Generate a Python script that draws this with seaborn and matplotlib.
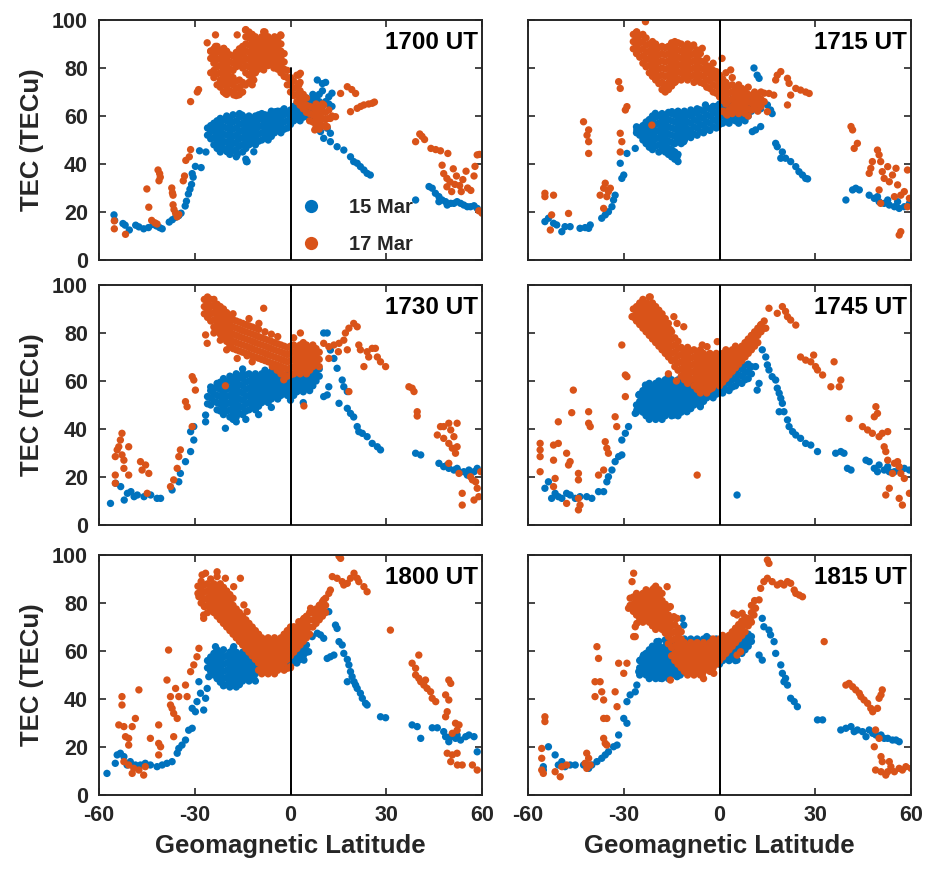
import pandas as pd
import seaborn as sns
import matplotlib.pyplot as plt

times = ['1700 UT', '1715 UT', '1730 UT', '1745 UT', '1800 UT', '1815 UT']
days = ['15 Mar', '17 Mar']
lat_ticks = [-60, -30, 0, 30, 60]
tec_ticks = [0, 20, 40, 60, 80, 100]

# scattered points: (geomagnetic latitude, TEC)
# dense cores: latitude column -> TEC values

# ---- 1700 UT ----
mar15_1700 = [
    (-55.3, 18.8), (-55.1, 16.5), (-52.5, 15.2), (-51.8, 14.5), (-50.5, 12.5), (-48.5, 14.5), (-47.5, 13.8),
    (-46, 13), (-44.5, 13.5), (-43, 14.8), (-42, 14.2), (-41, 13.5), (-40.2, 13), (-38, 15.8), (-37, 16.8),
    (-36, 17.8), (-35, 18.5), (-34.3, 19.5), (-33, 22.5), (-32.6, 24.5), (-32, 27.5), (-31.5, 29.5), (-31, 31.5),
    (-30.5, 34.5), (-30.8, 36), (-29.8, 39), (-28.5, 45.5), (-26.5, 45), (-28, 38.5), (-13.8, 41), (3.1, 59.7),
    (-19.9, 45.1), (-16.7, 43.8), (-13.6, 41), (-11.5, 45.1), (-6.8, 60.4), (-4.7, 61.8), (-15.2, 60.4),
    (-21.4, 58.3),
    (8.4, 75), (9.4, 56), (9.4, 53.5), (10.4, 50.7), (11.5, 54.9), (12.5, 52.8), (12.5, 49.3), (14.6, 47.2),
    (16.7, 45.8), (18.8, 43), (19.8, 41), (20.9, 40.3), (21.9, 38.9), (23, 37.5), (24, 36.1), (25, 35.4),
    (39.2, 25), (43.4, 30.6), (44.4, 29.9), (45.4, 27.8), (46.5, 26.4), (46.5, 24.3), (47.5, 25), (48.6, 24.3),
    (49.1, 22.9), (50.2, 23.6), (51.2, 23.6), (52.2, 24.3), (53.3, 23.6), (54.3, 22.9), (55.4, 22.2),
    (56.4, 22.2), (57.5, 22.6), (58.5, 21.5),
]
mar15_1700_core = {
    -26: [52, 55], -25: [50.5, 53.5, 56], -24: [48, 51, 54, 57], -23: [46.5, 49.5, 52.5, 55.5, 58],
    -22: [45, 48, 51, 54, 57, 59], -21: [46.5, 49.5, 52.5, 55.5, 58.5], -20: [46, 49, 52, 55, 58, 60],
    -19: [44, 47, 50, 53, 56, 59], -18: [45.5, 48.5, 51.5, 54.5, 57.5, 60.5], -17: [43, 46, 49, 52, 55, 58],
    -16: [47.5, 50.5, 53.5, 56.5, 59.5, 61], -15: [45, 48, 51, 54, 57, 60], -14: [42, 46.5, 49.5, 52.5, 55.5, 58.5],
    -13: [48, 51, 54, 57, 60], -12: [49.5, 52.5, 55.5, 58.5], -11: [48, 51, 54, 57, 60],
    -10: [49.5, 52.5, 55.5, 58.5, 60.5], -9: [50, 53, 56, 59, 61], -8: [51.5, 54.5, 57.5, 60.5],
    -7: [50, 53, 56, 59], -6: [51.5, 54.5, 57.5, 60.5, 62], -5: [53, 56, 59, 61], -4: [54.5, 57.5, 60.5, 62],
    -3: [53, 56, 59, 62], -2: [54.5, 57.5, 60.5, 63], -1: [55, 58, 61], 0: [56.5, 59.5, 62.5], 1: [58, 61, 64],
    2: [59.5, 62.5, 65], 3: [58, 61, 64, 66], 4: [59.5, 62.5, 65], 5: [60, 63, 66, 67.5], 6: [59, 62, 65],
    7: [61, 64, 67, 69], 8: [62, 65, 68], 9: [63, 66, 69], 10: [64, 70.5, 73.5], 11: [66, 74], 12: [65, 68],
    13: [64, 69.5],
}
mar17_1700 = [
    (-55.2, 16.3), (-55.2, 13), (-51.7, 10.7), (-45, 29.6), (-44.4, 22), (-43.5, 16.5), (-42.5, 15.5),
    (-41.8, 15), (-41.5, 37.5), (-41, 36), (-40.8, 34.5), (-41.2, 33), (-37.2, 30), (-37, 28), (-36.8, 27),
    (-36.8, 23), (-36.5, 21), (-36, 19.5), (-35.5, 18), (-35, 19), (-33.6, 33), (-33.2, 35), (-32.8, 41.5),
    (-31.7, 43), (-31.3, 46), (-31.3, 66), (-29.2, 70), (-28.8, 71), (-26.1, 90.5),
    (-25, 87), (-23.5, 89), (-20.9, 88.2), (-18.8, 74.3), (-16.2, 68.8), (-15.2, 70), (-14.1, 95.8),
    (-12.5, 93.8), (-8.4, 95.1), (-3.1, 93.8), (2.6, 77), (7.6, 54.2), (11.5, 55.6), (14.1, 59.7),
    (12.5, 59), (10.4, 64.6), (-20.4, 69.4), (-17.8, 68.8), (-14.1, 72.9), (-11.5, 75), (-8.4, 79.2),
    (-5.2, 80), (-23.5, 93.8), (-16.7, 93.8), (0, 75), (2.6, 72.9), (3.1, 77.8),
    (17.8, 72.2), (19.2, 71), (20.4, 69.4), (15.7, 69.4), (18.8, 61.8), (20.9, 63.2), (22, 64), (23, 64.6),
    (24.5, 65), (25.6, 65.3), (26.3, 65.8),
    (39.2, 49.3), (40.5, 52.5), (41.2, 51.5), (42, 50.2), (44, 46.5), (45.5, 46), (47, 45.5), (49.3, 44.4),
    (47.5, 39.5), (48, 36), (49, 34), (50, 32.5), (51, 38), (52, 35), (53, 31), (54, 33.5), (55, 37),
    (50.5, 28.5), (53.5, 28.5), (55.5, 30), (56.5, 29), (57.5, 35), (58.5, 43.8), (59.2, 44), (59, 20.5),
    (60, 19.5), (57.8, 39), (49, 30.5), (51.5, 31.5),
]
mar17_1700_core = {
    -25: [78, 84, 87], -24: [76, 79, 82, 85, 88], -23: [73, 77.5, 80.5, 83.5, 86.5, 89],
    -22: [72, 75, 78, 81, 84, 87], -21: [70, 73.5, 76.5, 79.5, 82.5, 85.5, 88], -20: [69, 72, 75, 78, 81, 84, 87],
    -19: [70.5, 73.5, 76.5, 79.5, 82.5, 85.5], -18: [70, 73, 76, 79, 82, 85], -17: [68.5, 71.5, 74.5, 80.5, 83.5, 86.5],
    -16: [69, 72, 75, 82, 85, 88], -15: [70, 74, 80, 83, 86, 89], -14: [78, 81, 84, 87, 90, 93, 96],
    -13: [74, 77, 80.5, 83.5, 86.5, 89.5, 92.5, 95], -12: [73, 76, 79, 82, 85, 88, 91, 94],
    -11: [78, 81, 84, 87, 90, 93], -10: [79.5, 82.5, 85.5, 88.5, 91.5], -9: [81, 84, 87, 90, 93],
    -8: [82.5, 85.5, 88.5, 91.5, 95], -7: [81, 84, 87, 90, 93], -6: [82.5, 85.5, 88.5, 91.5],
    -5: [81, 84, 87, 90, 93], -4: [79.5, 82.5, 85.5, 88.5, 91.5], -3: [78, 81, 84, 87, 90, 93.5],
    -2: [76.5, 79.5, 82.5, 86], -1: [73, 76, 79], 0: [70, 73, 76], 1: [68.5, 71.5, 74.5], 2: [66, 69, 72, 77],
    3: [64.5, 67.5, 70.5, 74], 4: [63, 66, 69], 5: [61.5, 64.5, 67.5], 6: [58, 61, 64], 7: [57.5, 60.5, 63.5],
    8: [56, 59, 62, 65], 9: [54.5, 57.5, 60.5, 63.5], 10: [56, 59, 62, 65], 11: [55.5, 58.5, 61.5],
    12: [59, 62.5], 13: [60],
}

# ---- 1715 UT ----
mar15_1715 = [
    (-54.7, 16), (-53.6, 17.4), (-52, 15.3), (-51, 14.6), (-49.4, 11.8), (-48.4, 13.9), (-46.8, 13.9),
    (-43.7, 13.2), (-42.1, 13.5), (-40.5, 14.6), (-41, 13.2), (-36.9, 17.4), (-35.8, 18.8), (-34.8, 20.1),
    (-33.7, 22.2), (-33.2, 25), (-32.7, 27), (-31.1, 40.3), (-30.6, 34), (-30, 35.4), (-29, 44.4),
    (-26.4, 46.5), (-25.9, 54.2), (-13.3, 43), (-14.3, 45), (-11.2, 49.3), (-10.2, 52), (-20.1, 61.1),
    (-14.9, 61.8), (-4.4, 64.6),
    (10.8, 80), (11.8, 77), (12.4, 75.7), (11.3, 67.4), (12.9, 63), (15, 64.6), (16, 62.5), (16.5, 61),
    (10.3, 53.5), (11.3, 54.2), (12.9, 55.6), (17.6, 48.6), (18.1, 47.2), (19.7, 45), (19.2, 42.4),
    (20.7, 42.4), (22.3, 41), (23.9, 38.9), (24.9, 36.8), (26, 35.4), (27, 34), (27.6, 33.8),
    (39.6, 25), (41.7, 29.2), (42.7, 29.9), (43.8, 29.2), (46.9, 27), (48.5, 25.7), (50, 24.3), (51.6, 23.6),
    (53.2, 22.9), (54.8, 22.2), (56.3, 21.5), (57.9, 22.2), (59.5, 23.6), (49.5, 26.4), (52.7, 25),
    (55.8, 24.3),
]
mar15_1715_core = {
    -26: [53, 55.5], -25: [52, 55], -24: [50, 53, 56], -23: [48.5, 51.5, 54.5, 57.5], -22: [47, 50, 53, 56, 58.5],
    -21: [46, 49, 52, 55, 58, 60], -20: [47.5, 50.5, 53.5, 56.5, 59.5], -19: [45, 48, 51, 54, 57, 60],
    -18: [46.5, 49.5, 52.5, 55.5, 58.5, 61], -17: [45, 48, 51, 54, 57, 60],
    -16: [44, 46.5, 49.5, 52.5, 55.5, 58.5, 61.5], -15: [43, 46, 49, 52, 55, 58, 61],
    -14: [42, 45, 48.5, 51.5, 54.5, 57.5, 60.5], -13: [41, 44, 50, 53, 56, 59, 62],
    -12: [48.5, 51.5, 54.5, 57.5, 60.5], -11: [50, 53, 56, 59, 62], -10: [51.5, 54.5, 57.5, 60.5],
    -9: [51, 54, 57, 60, 62.5], -8: [52.5, 55.5, 58.5, 61.5], -7: [52, 55, 58, 61, 63], -6: [53.5, 56.5, 59.5, 62.5],
    -5: [53, 56, 59, 62], -4: [54.5, 57.5, 60.5, 63.5], -3: [54, 57, 60, 63], -2: [55.5, 58.5, 61.5, 64],
    -1: [55, 58, 61, 64], 0: [56.5, 59.5, 62.5, 65], 1: [57, 60, 63, 66], 2: [58, 61, 64, 67],
    3: [57, 60, 63, 66], 4: [58.5, 61.5, 64.5, 67], 5: [58, 61, 64, 67], 6: [57, 60, 63, 66], 7: [59, 62, 65],
    8: [58, 61, 64, 67], 9: [60, 63, 66], 10: [62, 65],
}
mar17_1715 = [
    (-54.7, 27.8), (-54.7, 26.4), (-52, 27), (-52.6, 18.8), (-53, 12.5), (-47.3, 19.4), (-42.6, 57.6),
    (-41, 54.2), (-41.5, 52), (-41, 49.3), (-41, 44.4), (-37.4, 27), (-36.3, 29.9), (-35.8, 32), (-35.3, 26.4),
    (-34.8, 28.5), (-36.3, 21.5), (-34.2, 29.9), (-31.6, 74.3), (-31.1, 71.5), (-29, 63.9), (-29.5, 62.5),
    (-31.1, 52.8), (-30.6, 49.3), (-31.1, 45), (-21.2, 56.2), (-23.2, 99.3),
    (-25.9, 95), (-25.9, 87.5), (-17.5, 70.8), (-15.9, 72.2), (-13.8, 74.3), (-3.9, 79.2), (-2.3, 76.4),
    (0.8, 84), (3.5, 79.2), (-8.1, 89.6), (-5.4, 88.2),
    (1.4, 61.8), (2.4, 60.4), (4.5, 61.8),
    (18.1, 77), (19.2, 78.5), (17.6, 75), (21.3, 75.7), (21.8, 73.6), (23.9, 71.5), (25.4, 70.8), (27, 70),
    (28.1, 69.4), (22.3, 68.7), (21.3, 64.6), (15, 61.8), (17, 68.7), (15.5, 69.4),
    (41.2, 55.6), (41.7, 54.2), (42.2, 46.5), (43.2, 48.6), (46.9, 36.1), (47.4, 38.2), (47.9, 41),
    (49.5, 45.8), (50, 43.8), (50.5, 41), (51, 36.8), (51.6, 34), (52.7, 38.9), (53.2, 32.6), (54.2, 35.4),
    (55.3, 38.2), (55.8, 31.3), (56.8, 27), (57.9, 28.5), (58.9, 37.5), (59.5, 25.7), (50, 29.2),
    (50.5, 23.6), (56.3, 10.4), (56.8, 11.8), (58.9, 22.2), (54.8, 26.4),
]
mar17_1715_core = {
    -27: [88, 91, 94], -26: [86, 89, 92, 95], -25: [84.5, 87.5, 90.5, 93.5], -24: [82, 85, 88, 91, 94],
    -23: [80.5, 83.5, 86.5, 89.5, 92.5], -22: [78, 81, 84, 87, 90], -21: [76.5, 79.5, 82.5, 85.5, 88.5, 91],
    -20: [75, 78, 81, 84, 87, 90], -19: [73.5, 76.5, 79.5, 82.5, 85.5, 88.5], -18: [71, 74, 77, 80, 83, 86, 89],
    -17: [70, 73, 76.5, 79.5, 82.5, 85.5, 88.5], -16: [71, 74, 77, 80, 83, 86, 89],
    -15: [72.5, 75.5, 78.5, 81.5, 84.5, 87.5, 90.5], -14: [74, 77, 80, 83, 86, 89, 91],
    -13: [75.5, 78.5, 81.5, 84.5, 87.5, 90.5], -12: [75, 78, 81, 84, 87, 90], -11: [76.5, 79.5, 82.5, 85.5, 88.5],
    -10: [75, 78, 81, 84, 87, 90], -9: [76.5, 79.5, 82.5, 85.5, 88.5], -8: [74, 77, 80, 83, 86],
    -7: [75.5, 78.5, 81.5, 84.5, 87.5], -6: [74, 77, 80, 83, 86], -5: [73.5, 76.5, 79.5, 82.5],
    -4: [72, 75, 78, 81, 84], -3: [71.5, 74.5, 77.5, 80.5], -2: [70, 73, 76, 79, 82], -1: [69.5, 72.5, 75.5, 78.5],
    0: [68, 71, 74, 77], 1: [62, 66.5, 69.5, 72.5, 75.5], 2: [61, 65, 68, 71, 74, 78], 3: [62.5, 66.5, 69.5, 72.5],
    4: [61, 64, 67, 70, 73, 76], 5: [62.5, 65.5, 68.5, 71.5], 6: [61, 64, 67, 70, 73], 7: [62.5, 65.5, 68.5, 71.5],
    8: [61, 64, 67, 70], 9: [60, 63, 66, 69, 72], 10: [62.5, 65.5, 68.5], 11: [64, 67, 70], 12: [62, 65.5, 68.5],
    13: [64, 67, 70], 14: [66, 69.5],
}

# ---- 1730 UT ----
mar15_1730 = [
    (-56.4, 9), (-54.8, 17.4), (-53.2, 16), (-52.1, 10.4), (-51.1, 13.2), (-50, 13.9), (-49, 11.8), (-48, 12.5),
    (-45.9, 11.8), (-43.8, 12.5), (-41.8, 11.1), (-40.7, 11.1), (-37.1, 14.6), (-35, 18), (-34.5, 21.5),
    (-32.9, 26.4), (-31.3, 30.6), (-30.3, 35.4), (-31.3, 38.9), (-30.3, 41), (-26.6, 43), (-26.6, 45.8),
    (-20.4, 40.3), (-17, 43), (-14, 44), (-10, 46), (-6, 49), (-25, 57.5), (-15, 65), (-8, 64.5), (-3, 65.5),
    (10.4, 80), (11.5, 80), (12.5, 72.9), (13.6, 69.4), (14.6, 65.3), (12, 57.6), (11.5, 54.2), (10.4, 53.5),
    (15.2, 50.7), (16.2, 60.4), (16.7, 57.6), (17.8, 55.6), (17.8, 48.6), (18.8, 46.5), (19.8, 45),
    (20.9, 41), (21.4, 38.9), (22.5, 38.2), (24, 36.8), (25.6, 34), (27.2, 32.6), (28.2, 31.3),
    (39.2, 29.9), (40.8, 29.2), (46.5, 25.7), (48, 24.3), (49.6, 23.6), (51.2, 22.9), (52.8, 22.2),
    (54.3, 22.2), (55.9, 22.9), (57.5, 22.2), (58.5, 23.6), (49.1, 25), (52.2, 23.6), (55.4, 20.8),
]
mar15_1730_core = {
    -26: [50.5, 53.5], -25: [50, 53, 56], -24: [51.5, 54.5, 57], -23: [48, 51, 54, 57, 59],
    -22: [47.5, 50.5, 53.5, 56.5, 59.5], -21: [46, 49, 52, 55, 58, 61], -20: [47.5, 50.5, 53.5, 56.5, 59.5],
    -19: [45, 48, 51, 54, 57, 60, 62], -18: [44, 46.5, 49.5, 52.5, 55.5, 58.5, 61.5],
    -17: [45, 48, 51, 54, 57, 60, 63], -16: [46.5, 49.5, 52.5, 55.5, 58.5, 61.5], -15: [46, 49, 52, 55, 58, 61, 63],
    -14: [47.5, 50.5, 53.5, 56.5, 59.5, 62.5], -13: [48, 51, 54, 57, 60, 63], -12: [49.5, 52.5, 55.5, 58.5, 61.5],
    -11: [48, 51, 54, 57, 60, 63], -10: [49.5, 52.5, 55.5, 58.5, 61.5], -9: [51, 54, 57, 60, 63],
    -8: [52.5, 55.5, 58.5, 61.5], -7: [51, 54, 57, 60, 63], -6: [52.5, 55.5, 58.5, 61.5, 64], -5: [54, 57, 60, 63],
    -4: [52.5, 55.5, 58.5, 61.5, 64], -3: [54, 57, 60, 63], -2: [55.5, 58.5, 61.5], -1: [54, 57, 60, 63],
    0: [52, 55.5, 58.5, 61.5], 1: [54, 57, 60], 2: [55.5, 58.5, 61.5], 3: [57, 60, 63], 4: [51, 55.5, 58.5, 61.5],
    5: [57, 60, 63], 6: [56, 59, 62, 64.5], 7: [58, 61, 64], 8: [60, 63, 66], 9: [62, 65],
}
mar17_1730 = [
    (-54.9, 28.5), (-54.3, 31.3), (-53.8, 32.6), (-52.8, 38.2), (-53.3, 35.4), (-52.8, 29.2), (-52.2, 27),
    (-52.2, 23.6), (-54.9, 20.8), (-54.9, 17.4), (-50.7, 32.6), (-50.7, 20.8), (-47, 26.4), (-46.5, 22.9),
    (-45.4, 25), (-44.4, 21.5), (-44.9, 13.2), (-37.6, 16), (-36.6, 18.8), (-35, 28.5), (-35.5, 23.6),
    (-34.5, 31.3), (-32.9, 51.4), (-32.4, 49.3), (-30.8, 61.8), (-30.3, 60.4), (-29.8, 56.2), (-30.8, 41),
    (-26.6, 79.2), (-26.1, 75.7), (-20.4, 58), (4.2, 49.6), (18.3, 55.6), (-1.5, 62), (-3, 64),
    (-16.7, 69.4), (-13.6, 70.5), (-8.4, 90.3), (-9.9, 84), (-5.7, 66), (-4.2, 64.5), (-2.1, 60.5), (-12, 68),
    (-20, 73), (-24, 80), (-22, 77),
    (3.1, 80), (10.4, 75.7), (12, 74.3), (13.6, 75), (15.2, 75.7), (16.7, 77), (17.2, 80), (18.3, 82),
    (19.8, 84), (20.9, 82.6), (17.8, 73), (21.4, 75), (21.9, 73), (24, 72.2), (25.6, 73.6), (26.6, 73.6),
    (27.2, 70), (24.5, 70), (28.2, 68), (29.8, 66), (23, 66), (12, 69.4), (15, 72.2),
    (37.1, 57.6), (38.1, 57), (38.7, 55.6), (39.7, 47.2), (39.7, 45.4), (46, 37.5), (47, 41), (48, 41),
    (49.6, 42.4), (50.2, 39.6), (51.2, 36.8), (52.2, 42.4), (49.6, 34), (50.7, 32), (51.7, 29.9), (52.2, 32.6),
    (49.6, 25.7), (52.8, 21.5), (56.4, 20.1), (57, 18.8), (58, 18), (58.5, 15.3), (53.8, 13.2), (53.8, 8.3),
    (57.5, 10.4), (59, 11.8), (59.6, 22.2), (48, 36.1),
]
mar17_1730_core = {
    -27: [88, 91, 94], -26: [86.5, 89.5, 92.5, 95], -25: [85, 88, 91, 94], -24: [82.5, 85.5, 88.5, 91.5, 94],
    -23: [81, 84, 87, 90, 92], -22: [79.5, 82.5, 85.5, 88.5, 91], -21: [78, 81, 84, 87, 90],
    -20: [76.5, 79.5, 82.5, 85.5, 88.5], -19: [75, 78, 81, 84, 87], -18: [73.5, 76.5, 79.5, 82.5, 85.5, 88],
    -17: [73, 76, 79, 82, 85], -16: [72.5, 75.5, 78.5, 81.5, 84.5], -15: [72, 75, 78, 81, 84],
    -14: [71.5, 74.5, 77.5, 80.5, 83.5], -13: [71, 74, 77, 80, 83, 86], -12: [70.5, 73.5, 76.5, 79.5, 82.5],
    -11: [70, 73, 76, 79, 82], -10: [69.5, 72.5, 75.5, 78.5, 81.5], -9: [69, 72, 75, 78],
    -8: [68.5, 71.5, 74.5, 77.5, 80.5], -7: [68, 71, 74, 77], -6: [67.5, 70.5, 73.5, 76.5, 79.5],
    -5: [67, 70, 73, 76], -4: [66.5, 69.5, 72.5, 75.5, 78.5], -3: [63, 66, 69, 72, 75],
    -2: [62.5, 65.5, 68.5, 71.5, 74.5], -1: [62, 65, 68, 71, 74], 0: [62.5, 65.5, 68.5, 71.5, 74.5],
    1: [63, 66, 69, 72, 75, 78], 2: [64.5, 67.5, 70.5, 73.5], 3: [63, 66, 69, 72, 75],
    4: [64.5, 67.5, 70.5, 73.5, 76], 5: [63, 66, 69, 72, 75], 6: [64.5, 67.5, 70.5, 73.5], 7: [66, 69, 72, 75],
    8: [67.5, 70.5, 73.5], 9: [66, 69, 72],
}

# ---- 1745 UT ----
mar15_1745 = [
    (-54.7, 15.3), (-53.6, 18), (-52.6, 11.1), (-51.5, 13.2), (-50.5, 11.8), (-49.4, 11.1), (-47.9, 13.2),
    (-46.8, 12.5), (-45.2, 11.1), (-43.7, 11.8), (-41.6, 11.8), (-40, 11.1), (-37.9, 13.9), (-36.3, 13.9),
    (-35.3, 18), (-34.8, 20.1), (-33.7, 22.9), (-32.7, 26.4), (-31.6, 28.5), (-30.6, 29.2), (-30.6, 35.4),
    (-29.5, 38.2), (-28.5, 41), (-26.4, 46.5), (-25.9, 47.9), (-25.3, 54.2),
    (-17.5, 47.2), (-14.3, 45.8), (-10.2, 47.2), (-6, 49.3), (-23.2, 58.3), (-15.9, 61.1), (-8.1, 60.4),
    (-4.4, 61.8),
    (10.8, 77.8), (11.3, 66), (13.4, 73), (14.5, 70), (15, 66.7), (15.5, 64.6), (16.5, 61.8), (17.6, 60.4),
    (18.1, 57), (18.7, 54.9), (19.2, 52.8), (19.7, 50.7), (18.7, 47.2), (20.2, 47.2), (21.3, 43.8),
    (21.8, 41), (22.9, 38.9), (23.9, 37.5), (25.4, 36.1), (27, 34), (28.6, 33.3), (30.7, 30.6), (11.8, 56.2),
    (12.4, 59), (5.5, 12.5),
    (36.4, 29.9), (38, 30.6), (39, 29.9), (40.1, 23.6), (41.2, 22.9), (45.9, 27), (46.9, 26.4), (48.5, 23.6),
    (50, 25), (51.6, 22.9), (53.2, 22.2), (54.8, 22.2), (56.3, 23.6), (57.9, 23.6), (59.5, 22.9), (49.5, 22.2),
    (52.7, 24.3),
]
mar15_1745_core = {
    -26: [47, 50], -25: [48.5, 51.5, 54.5], -24: [47, 50, 53, 56], -23: [45.5, 48.5, 51.5, 54.5, 57.5],
    -22: [44, 47, 50, 53, 56, 59], -21: [45.5, 48.5, 51.5, 54.5, 57.5], -20: [44, 47, 50, 53, 56, 59],
    -19: [45.5, 48.5, 51.5, 54.5, 57.5, 60], -18: [44, 47, 50, 53, 56, 59],
    -17: [45.5, 48.5, 51.5, 54.5, 57.5, 60.5], -16: [47, 50, 53, 56, 59, 62],
    -15: [45.5, 48.5, 51.5, 54.5, 57.5, 60.5], -14: [47, 50, 53, 56, 59],
    -13: [45.5, 48.5, 51.5, 54.5, 57.5, 60.5], -12: [47, 50, 53, 56, 59], -11: [48.5, 51.5, 54.5, 57.5, 60.5],
    -10: [50, 53, 56, 59], -9: [48.5, 51.5, 54.5, 57.5, 60.5], -8: [50, 53, 56, 59], -7: [51.5, 54.5, 57.5, 60.5],
    -6: [50, 53, 56, 59], -5: [51.5, 54.5, 57.5, 60.5], -4: [53, 56, 59], -3: [54.5, 57.5, 60.5],
    -2: [53, 56, 59], -1: [54.5, 57.5, 60.5], 0: [56, 59, 62], 1: [55, 58, 61], 2: [56.5, 59.5, 62.5],
    3: [56, 59, 62], 4: [57.5, 60.5, 63.5], 5: [58, 61, 64], 6: [59.5, 62.5, 65.5], 7: [59, 62, 65],
    8: [60.5, 63.5, 66.5], 9: [61, 64, 67], 10: [63, 66],
}
mar17_1745 = [
    (-56.2, 34), (-56.2, 31.3), (-56.2, 28.5), (-56.2, 22.2), (-52, 33.3), (-52, 27), (-50.5, 34), (-50.5, 43),
    (-51.5, 19.4), (-52, 16), (-47.9, 29.9), (-46.8, 26.4), (-47.3, 25), (-46.3, 46.8), (-45.8, 56.2),
    (-44.2, 21.5), (-44.2, 18.8), (-47.9, 9), (-44.2, 11.1), (-44.2, 6.3), (-43.7, 8.3), (-41, 47.2),
    (-41, 42.4), (-40.5, 41), (-37.9, 20.8), (-36.3, 22.9), (-35.8, 34.7), (-35.3, 32), (-34.8, 29.9),
    (-32.7, 45.1), (-32.2, 41), (-30.6, 75), (-29.5, 62.5), (-29, 61.8), (-29.5, 53.5), (-7, 20.8),
    (-13.5, 60), (-16, 63), (-21.7, 95), (-22.7, 92.4), (-26.4, 86.1), (-27.4, 86.8), (-14.3, 86.8),
    (-13.3, 84), (-11.2, 82.6), (-15.4, 81.3), (-10.7, 72.2), (-5.4, 75), (-3.9, 74.3), (-0.7, 76.4),
    (-10.2, 64.6), (-6, 56.2), (-2.3, 57), (-7, 59.7),
    (15.5, 90.3), (18.1, 88.2), (19.7, 91), (20.7, 89), (21.3, 86.8), (22.3, 85.4), (23.9, 83.3), (12.9, 83.3),
    (14.5, 82), (10.8, 79.2),
    (25.4, 70), (27, 68.7), (28.6, 68), (29.5, 70.8), (30.1, 66), (30.7, 64.6), (32.3, 62.5), (35.9, 68),
    (34.9, 57.6), (37.5, 57.6), (38, 60.4), (40.6, 44.4), (44.8, 41), (46.4, 39.6), (47.9, 38.2), (49, 49.3),
    (49.5, 46.5), (48.5, 45.1), (50, 36.8), (51, 38.2), (52.7, 38.9), (51.6, 32.6), (52.1, 30.6), (52.7, 27),
    (54.8, 25.7), (55.8, 26.4), (56.3, 24.3), (56.8, 21.5), (57.9, 19.4), (53.2, 15.3), (52.1, 12.5),
    (56.3, 11.1), (57.3, 8.3), (59.5, 13.2), (54.2, 21.5),
]
mar17_1745_core = {
    -27: [87, 90], -26: [85, 88, 91], -25: [83.5, 86.5, 89.5, 92.5], -24: [82, 85, 88, 91, 94],
    -23: [80.5, 83.5, 86.5, 89.5, 92.5], -22: [79, 82, 85, 88, 91, 95], -21: [77.5, 80.5, 83.5, 86.5, 89.5, 92.5],
    -20: [76, 79, 82, 85, 88, 91], -19: [74.5, 77.5, 80.5, 83.5, 86.5, 89.5], -18: [73, 76, 79, 82, 85, 88],
    -17: [71.5, 74.5, 77.5, 80.5, 83.5, 86], -16: [70, 73, 76, 79, 82, 84], -15: [68.5, 71.5, 74.5, 77.5, 80.5],
    -14: [66, 69, 72, 75, 78], -13: [64.5, 67.5, 70.5, 73.5, 76.5], -12: [62, 65, 68, 71, 74],
    -11: [60.5, 63.5, 66.5, 69.5, 72.5], -10: [59, 62, 65, 68, 71, 74], -9: [60.5, 63.5, 66.5, 69.5, 72.5],
    -8: [58, 61, 64, 67, 70, 73], -7: [56.5, 59.5, 62.5, 65.5, 68.5, 71.5], -6: [55, 58, 61, 64, 67, 70, 73],
    -5: [56.5, 59.5, 62.5, 65.5, 68.5, 71.5], -4: [55, 58, 61, 64, 67, 70],
    -3: [56.5, 59.5, 62.5, 65.5, 68.5, 71.5], -2: [58, 61, 64, 67, 70], -1: [59.5, 62.5, 65.5, 68.5, 71.5],
    0: [58, 61, 64, 67, 70], 1: [59.5, 62.5, 65.5, 68.5, 71.5], 2: [61, 64, 67, 70, 73], 3: [62.5, 65.5, 68.5, 71.5],
    4: [64, 67, 70, 73], 5: [65.5, 68.5, 71.5, 74.5], 6: [67, 70, 73], 7: [68.5, 71.5, 74.5], 8: [70, 73, 76],
    9: [71.5, 74.5, 77.5], 10: [73, 76, 79], 11: [74.5, 77.5, 80.5], 12: [76, 79, 82], 13: [80.5, 83.5],
    14: [82, 85],
}

# ---- 1800 UT ----
mar15_1800 = [
    (-57.5, 9), (-54.9, 13.2), (-54.3, 16.7), (-53.3, 17.4), (-52.2, 16), (-51.2, 12.5), (-50.2, 13.9),
    (-48.6, 12.5), (-47, 12.5), (-45.5, 13.2), (-43.9, 12.5), (-41.8, 11.8), (-40.2, 12.5), (-38.7, 13.2),
    (-37.1, 13.9), (-35.5, 17.4), (-35, 19.4), (-34, 20.8), (-32.9, 22.9), (-31.9, 27), (-30.8, 27.8),
    (-30.8, 36.1), (-29.8, 34.7), (-29.3, 38.9), (-28.2, 42.4), (-28.7, 47.2), (-27.2, 35.4), (-26.6, 40.3),
    (-26.1, 44.4), (-25.6, 49.3), (-25.1, 52.1),
    (-23.5, 61.8), (-17.8, 61.8), (-16.7, 46.5), (-11.5, 48.6), (-9.9, 56.2), (-4.2, 58.3), (1.6, 55.6),
    (4.2, 56.2), (5.2, 59.7),
    (12, 76.4), (14.1, 70.8), (14.6, 69.4), (15.2, 63.9), (16.2, 62.5), (16.7, 59), (17.8, 56.5), (18.3, 54.2),
    (18.8, 51.4), (19.3, 49.3), (17.8, 47.2), (19.9, 47.2), (20.4, 45.8), (20.9, 44.4), (21.9, 42.4),
    (22.5, 40.3), (23.5, 38.2), (24, 37.5), (11.5, 56.9), (12.5, 57.6), (13.6, 58.3), (9.4, 66.7),
    (10.4, 65.3), (8.4, 67.4), (6.8, 66), (5.7, 59.7),
    (28.2, 32.6), (29.8, 32.2), (38.1, 29.2), (39.7, 28.5), (40.8, 23.6), (44.4, 28), (46, 28), (48, 26.4),
    (48.6, 24.3), (50.2, 24.3), (51.7, 23.6), (53.3, 22.9), (54.9, 24.3), (55.9, 25), (57.5, 24.3), (58.5, 18),
    (49.6, 22.2), (52.2, 25),
]
mar15_1800_core = {
    -26: [53, 56], -25: [51.5, 54.5, 57.5], -24: [50, 53, 56, 59], -23: [48.5, 51.5, 54.5, 57.5, 60.5],
    -22: [47, 50, 53, 56, 59], -21: [45.5, 48.5, 51.5, 54.5, 57.5, 60.5], -20: [46, 49, 52, 55, 58],
    -19: [45, 47.5, 50.5, 53.5, 56.5, 59.5], -18: [46, 49, 52, 55, 58, 61],
    -17: [45, 47.5, 50.5, 53.5, 56.5, 59.5], -16: [46, 49, 52, 55, 58], -15: [47.5, 50.5, 53.5, 56.5, 59.5],
    -14: [49, 52, 55, 58], -13: [47.5, 50.5, 53.5, 56.5, 59.5], -12: [49, 52, 55, 58], -11: [47.5, 50.5, 53.5, 56.5],
    -10: [52, 55, 58], -9: [51.5, 54.5, 57.5], -8: [54, 57, 59], -7: [52.5, 55.5, 58], -6: [54, 57, 59.5],
    -5: [55.5, 58.5], -4: [54, 57, 60], -3: [53.5, 56.5, 59.5], -2: [55, 58, 61], -1: [54.5, 57.5],
    0: [54, 57, 60], 1: [55.5, 58.5], 2: [55, 58, 61], 3: [56.5, 59.5, 62], 4: [58, 61], 5: [59.5, 62.5],
}
mar17_1800 = [
    (-52.8, 41), (-52.8, 37.5), (-53.8, 29.2), (-52.2, 28.5), (-49.6, 28.5), (-48.6, 31.9), (-47.5, 43.8),
    (-51.7, 24.3), (-50.7, 23.6), (-50.7, 20.8), (-52.2, 13.9), (-50.7, 12.5), (-49.6, 9), (-49.1, 11.1),
    (-47.5, 10.4), (-46, 8.3), (-45.5, 11.8), (-43.9, 23.6), (-41.3, 29.2), (-41.3, 21.5), (-40.7, 20.1),
    (-41.3, 16.7), (-38.7, 47.9), (-38.2, 60.4), (-37.6, 41), (-37.6, 37.5), (-37.1, 36.1), (-36.6, 34),
    (-35.5, 31.9), (-36.6, 24.3), (-36, 44.4), (-35, 41), (-32.9, 45.8), (-32.4, 41), (-31.3, 51.4),
    (-30.3, 54.2), (-29.3, 57.6), (-28.7, 61.1), (-27.2, 73.6), (-28.7, 82.6), (-2, 52), (-5, 51),
    (-27.7, 91.7), (-26.6, 92.4), (-23, 93), (-20.4, 90.3), (-15.7, 90.3), (-17.8, 86.8), (-14.6, 79.2),
    (-13.6, 76.4), (-27.2, 75), (-19.9, 72.9), (-15.2, 68), (-7.3, 58.3), (-6.3, 52.1), (-1, 52.8), (0, 53.5),
    (1, 70.1), (2.6, 72.2), (4.2, 73.6), (6.3, 77.8), (8.4, 76.4), (9.4, 79.2), (10.4, 81.3), (12, 84),
    (12.5, 85.4), (13.1, 91), (14.6, 90.3), (15.2, 99.5), (15.7, 98.6), (16.2, 88.9), (16.7, 87.5),
    (17.8, 88.2), (18.8, 90.3), (19.9, 92.4), (20.9, 90.3), (21.4, 88.9), (23, 86.8), (24, 84.7),
    (31.3, 68.7), (38.1, 54.9), (39.2, 52.8), (40.2, 58.3), (39.2, 50), (40.2, 48.6), (40.8, 47.2),
    (41.8, 45.8), (42.8, 44.4), (42.3, 47.9), (43.9, 43), (44.4, 40.3), (45.5, 38.9), (48.6, 41.7),
    (49.6, 47.9), (50.2, 46.5), (49.6, 39.6), (49.1, 34.7), (48.6, 32.6), (51.7, 29.9), (52.8, 29.2),
    (50.7, 25.7), (52.2, 27), (49.1, 17.4), (50.7, 16.7), (52.2, 17.4), (50.2, 13.9), (52.3, 12.5),
    (53.8, 12.5), (57, 12.5), (58.5, 10.4),
]
mar17_1800_core = {
    -29: [84, 87], -28: [80, 83, 86, 89], -27: [78.5, 81.5, 84.5, 87.5], -26: [76, 79, 82, 85, 88],
    -25: [77.5, 80.5, 83.5, 86.5, 90], -24: [76, 79, 82, 85, 88], -23: [74.5, 77.5, 80.5, 83.5, 86.5, 91],
    -22: [73, 76, 79, 82, 85, 88], -21: [71.5, 74.5, 77.5, 80.5, 83.5, 86.5], -20: [70, 73, 76, 79, 82, 85],
    -19: [68.5, 71.5, 74.5, 77.5, 80.5, 83.5], -18: [67, 70, 73, 76, 79, 82], -17: [65.5, 68.5, 71.5, 74.5, 77.5],
    -16: [64, 67, 70, 73, 76], -15: [62.5, 65.5, 68.5, 71.5, 74.5], -14: [61, 64, 67, 70, 73],
    -13: [59.5, 62.5, 65.5, 68.5, 71.5], -12: [58, 61, 64, 67, 70], -11: [56.5, 59.5, 62.5, 65.5, 68.5],
    -10: [52, 55, 58, 61, 64, 67], -9: [50.5, 53.5, 56.5, 59.5, 62.5, 65.5], -8: [52, 55, 58, 61, 64],
    -7: [50.5, 53.5, 56.5, 59.5, 62.5, 65.5], -6: [52, 55, 58, 61, 64], -5: [50.5, 53.5, 56.5, 59.5, 62.5, 65.5],
    -4: [52, 55, 58, 61, 64], -3: [53.5, 56.5, 59.5, 62.5, 65.5], -2: [55, 58, 61, 64, 67],
    -1: [56.5, 59.5, 62.5, 65.5, 68.5], 0: [53, 58, 61, 64, 67, 70], 1: [59.5, 62.5, 65.5, 68.5],
    2: [61, 64, 67, 70], 3: [62.5, 65.5, 68.5, 71.5], 4: [64, 67, 70, 73], 5: [65.5, 68.5, 71.5, 74.5],
    6: [67, 70, 73, 76], 7: [70, 73, 76], 8: [71.5, 74.5, 77.5], 9: [73, 76, 79], 10: [74.5, 77.5, 80.5],
    11: [76, 79, 82],
}

# ---- 1815 UT ----
mar15_1815 = [
    (-55.2, 11.8), (-55.2, 10.4), (-53.6, 20.1), (-51.5, 16.7), (-50.5, 12.5), (-49.4, 13.9), (-48.4, 11.8),
    (-46.8, 12.5), (-45.2, 12.5), (-42.6, 12.5), (-41, 11.1), (-40, 12.5), (-38.4, 13.9), (-36.9, 15.3),
    (-35.8, 16.7), (-34.8, 18), (-33.2, 20.1), (-32.1, 20.8), (-31.6, 25), (-30, 31.9), (-29, 29.9),
    (-29, 38.9), (-28, 41.7), (-26.4, 43), (-25.9, 45.8), (-25.3, 51.4), (-24.8, 56.2), (-23.8, 58.3),
    (-19.6, 63.9), (-17, 64.6), (-11.7, 73.6), (-11.2, 70.8), (-12.8, 68.7),
    (-21.2, 49.3), (-18.5, 48.6), (-13.3, 49.3), (-12.3, 50), (-3.9, 63.2), (0.3, 61.8), (5.5, 56.2),
    (13.4, 73.6), (13.9, 70.1), (15.5, 68.7), (16, 66.7), (17.1, 63.9), (17.6, 59), (12.4, 58.3), (13.4, 56.2),
    (19.2, 54.2), (19.7, 50.7), (20.7, 48.6), (20.2, 47.2), (21.3, 45.8), (22.3, 40.3), (23.4, 38.9),
    (24.4, 36.8), (30.7, 31.3), (32.3, 31.3),
    (38, 27.1), (39.6, 27.8), (41.2, 28.5), (42.2, 26.4), (43.2, 27.1), (44.8, 26.4), (45.9, 24.3), (48, 25.7),
    (49, 25), (50.6, 25), (51.6, 23.6), (52.7, 23.6), (54.2, 22.9), (55.3, 22.9), (56.3, 22.2), (46.9, 27.1),
    (50, 24.3),
]
mar15_1815_core = {
    -25: [50, 53, 56], -24: [51.5, 54.5, 57.5], -23: [50, 53, 56, 59], -22: [48.5, 51.5, 54.5, 57.5, 60.5],
    -21: [50, 53, 56, 59, 62], -20: [48.5, 51.5, 54.5, 57.5, 60.5], -19: [50, 53, 56, 59, 62, 64],
    -18: [48.5, 51.5, 54.5, 57.5, 60.5], -17: [50, 53, 56, 59, 62], -16: [48.5, 51.5, 54.5, 57.5, 60.5],
    -15: [50, 53, 56, 59, 62], -14: [51.5, 54.5, 57.5, 60.5, 63.5], -13: [50, 53, 56, 59, 62],
    -12: [51.5, 54.5, 57.5, 60.5, 63.5], -11: [53, 56, 59, 62, 65], -10: [54.5, 57.5, 60.5, 63.5],
    -9: [56, 59, 62, 65], -8: [57.5, 60.5, 63.5], -7: [59, 62, 65], -6: [60.5, 63.5], -5: [59, 62, 65],
    -4: [57.5, 60.5, 63.5, 66], -3: [56, 59, 62, 65], -2: [54.5, 57.5, 60.5, 63.5], -1: [56, 59, 62, 65],
    0: [54.5, 57.5, 60.5, 63.5], 1: [56, 59, 62], 2: [57.5, 60.5, 63.5], 3: [56, 59, 62], 4: [57.5, 60.5, 63.5],
    5: [56, 59, 62, 65], 6: [60.5, 63.5], 7: [59, 62, 65], 8: [60.5, 63.5, 66.5], 9: [62, 65, 67], 10: [64, 66],
}
mar17_1815 = [
    (-55.7, 19.4), (-55.7, 15.3), (-55.7, 10.4), (-55.2, 9), (-54.7, 32.6), (-54.7, 30.6), (-51.5, 9.7),
    (-49.9, 7.6), (-49.4, 11.8), (-47.9, 12.5), (-41.6, 17.4), (-41, 15.3), (-42.1, 13.2), (-40.5, 12.5),
    (-41.6, 11.1), (-39, 47.2), (-39, 41), (-37.4, 47.2), (-38.4, 61.8), (-37.9, 56.9), (-36.9, 43),
    (-36.3, 39.6), (-36.3, 31.9), (-35.3, 31.9), (-36.3, 23.6), (-35.8, 21.5), (-35.3, 20.8), (-32.7, 43),
    (-32.1, 36.8), (-31.6, 54.9), (-30, 50.7), (-29, 54.9), (-28.5, 77.8), (-26.9, 92.4), (-27.4, 88.9),
    (-26.4, 70.1), (-26.4, 66), (-15.4, 47.9),
    (-22.7, 83.3), (-20.6, 86.1), (-19.6, 85.4), (-16.4, 86.8), (-15.4, 78.5), (-14.3, 74.3), (-13.3, 73.6),
    (-20.6, 70.8), (-25.9, 71.5), (-26.9, 66), (-7, 51.4), (-5.4, 50), (-1.8, 50.7), (5.5, 58.3), (6.6, 59.7),
    (-8.1, 53.5),
    (4.5, 75.7), (5.5, 75), (7.1, 75.7), (8.7, 72.2), (9.7, 72.9), (10.8, 75), (11.3, 77.8), (12.4, 81.3),
    (12.9, 86.1), (13.9, 88.9), (15, 97.9), (15.5, 96.5), (15, 90.3), (16.5, 88.9), (18.1, 87.5), (19.2, 88.2),
    (20.2, 87.5), (21.3, 88.9), (22.3, 88.2), (23.4, 85.4), (23.9, 84), (25, 83.3), (26, 82.6), (32.8, 63.9),
    (39.6, 45.8), (40.6, 46.5), (41.7, 45.1), (42.7, 43.8), (43.8, 42.4), (44.3, 41), (45.3, 39.6),
    (46.4, 38.2), (47.4, 36.1), (48, 34.7), (49.5, 36.1), (50.6, 41.7), (51, 43.8), (50, 40.3), (48.9, 27.1),
    (50, 23.6), (48.5, 20.1), (50.6, 16), (51, 13.9), (48.9, 10.4), (50.6, 9.7), (52.7, 9.7), (53.7, 11.8),
    (54.8, 9.7), (56.3, 11.1), (57.3, 10.4), (58.4, 11.8), (60, 11.1), (53.2, 13.9), (52.1, 8.3),
]
mar17_1815_core = {
    -28: [79, 82], -27: [76.5, 79.5, 82.5], -26: [75, 78, 81, 84], -25: [73.5, 76.5, 79.5, 82.5],
    -24: [72, 75, 78, 81, 84], -23: [73.5, 76.5, 79.5, 82.5, 85.5], -22: [72, 75, 78, 81, 84],
    -21: [70.5, 73.5, 76.5, 79.5, 82.5, 85.5], -20: [69, 72, 75, 78, 81, 84, 87],
    -19: [70.5, 73.5, 76.5, 79.5, 82.5, 85.5], -18: [69, 72, 75, 78, 81, 84], -17: [67.5, 70.5, 73.5, 76.5, 79.5],
    -16: [63, 66, 69, 72, 75, 78], -15: [58, 61.5, 64.5, 67.5, 70.5, 73.5], -14: [56, 59, 62, 65, 68, 71],
    -13: [54.5, 57.5, 60.5, 63.5, 66.5, 69.5], -12: [53, 56, 59, 62, 65, 68], -11: [51.5, 54.5, 57.5, 60.5, 63.5],
    -10: [50, 53, 56, 59, 62], -9: [51.5, 54.5, 57.5, 60.5, 63.5], -8: [50, 53, 56, 59, 62],
    -7: [51.5, 54.5, 57.5, 60.5, 63.5], -6: [50, 53, 56, 59, 62], -5: [48.5, 51.5, 54.5, 57.5, 60.5, 63.5],
    -4: [53, 56, 59, 62], -3: [51.5, 54.5, 57.5, 60.5, 63.5], -2: [53, 56, 59, 62, 65], -1: [54.5, 57.5, 60.5, 63.5],
    0: [56, 59, 62, 65], 1: [57.5, 60.5, 63.5, 66.5], 2: [59, 62, 65], 3: [60.5, 63.5, 66.5], 4: [62, 65, 68],
    5: [63.5, 66.5, 69.5], 6: [65, 68, 71], 7: [66.5, 69.5, 72.5], 8: [68, 71, 74], 9: [70.5, 73.5],
    10: [72, 76, 79], 11: [78, 81],
}

series15 = [(mar15_1700, mar15_1700_core), (mar15_1715, mar15_1715_core), (mar15_1730, mar15_1730_core),
            (mar15_1745, mar15_1745_core), (mar15_1800, mar15_1800_core), (mar15_1815, mar15_1815_core)]
series17 = [(mar17_1700, mar17_1700_core), (mar17_1715, mar17_1715_core), (mar17_1730, mar17_1730_core),
            (mar17_1745, mar17_1745_core), (mar17_1800, mar17_1800_core), (mar17_1815, mar17_1815_core)]

rows = []
for t, s15, s17 in zip(times, series15, series17):
    for day, (pts, core) in zip(days, [s15, s17]):
        for lat, vals in core.items():
            for tec in vals:
                rows.append((t, day, lat, tec))
        for lat, tec in pts:
            rows.append((t, day, lat, tec))
df = pd.DataFrame(rows, columns=['time', 'day', 'lat', 'tec'])

sns.set_style('ticks')
plt.rcParams['font.family'] = ['Liberation Sans', 'DejaVu Sans']
plt.rcParams['font.weight'] = 'bold'
plt.rcParams['axes.labelweight'] = 'bold'
plt.rcParams['axes.unicode_minus'] = False

palette = {'15 Mar': '#0072BD', '17 Mar': '#D95319'}

fig = plt.figure(figsize=(9.33, 8.71), dpi=100)
lefts = [99 / 933, 528 / 933]
bottoms = [1 - 260 / 871, 1 - 525 / 871, 1 - 795 / 871]
w, h = 383 / 933, 240 / 871

for i, t in enumerate(times):
    r, c = divmod(i, 2)
    ax = fig.add_axes([lefts[c], bottoms[r], w, h])
    sub = df[df['time'] == t]
    sns.scatterplot(data=sub, x='lat', y='tec', hue='day', hue_order=days, palette=palette,
                    s=28, linewidth=0, alpha=1, ax=ax, legend=(i == 0))
    ax.axvline(0, ymax=0.8 if i == 0 else 1, color='black', lw=1.4, zorder=3)
    ax.set_xlim(-60, 60)
    ax.set_ylim(0, 100)
    ax.set_xticks(lat_ticks)
    ax.set_yticks(tec_ticks)
    ax.tick_params(direction='in', top=True, right=True, length=5, width=1.2,
                   labelsize=15.5, color='#262626', labelcolor='#262626')
    ax.tick_params(axis='y', pad=8)
    ax.tick_params(axis='x', pad=7)
    for sp in ax.spines.values():
        sp.set_linewidth(1.4)
        sp.set_color('#262626')
    ax.text(0.99, 0.905, t, transform=ax.transAxes, ha='right', va='center',
            fontsize=17.5, fontweight='bold', color='black')
    if c == 0:
        ax.set_ylabel('TEC (TECu)', fontsize=18.5, fontweight='bold', color='#262626', labelpad=6)
    else:
        ax.set_ylabel('')
        ax.set_yticklabels([])
    if r == 2:
        ax.set_xlabel('Geomagnetic Latitude', fontsize=18.5, fontweight='bold', color='#262626', labelpad=6)
    else:
        ax.set_xlabel('')
        ax.set_xticklabels([])
    if i == 0:
        handles, labels = ax.get_legend_handles_labels()
        ax.legend(handles, labels, loc='center left', bbox_to_anchor=(0.527, 0.14), frameon=False,
                  markerscale=1.8, handlelength=1.0, handletextpad=1.4, labelspacing=0.9,
                  borderpad=0, borderaxespad=0, prop={'size': 14.5, 'weight': 'bold'})

fig.savefig('out.png', dpi=100)
